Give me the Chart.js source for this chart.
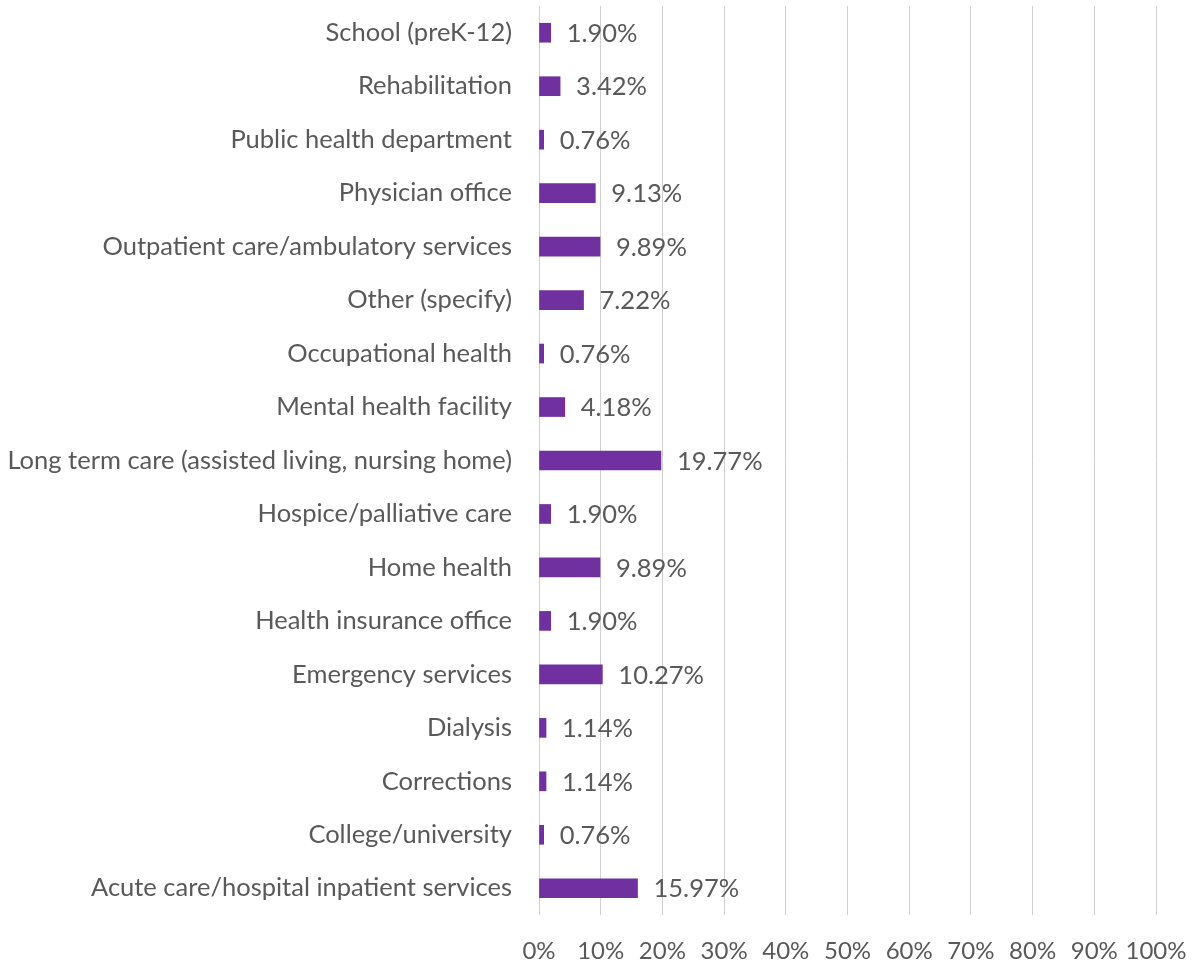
<!DOCTYPE html>
<html>
<head>
<meta charset="utf-8">
<script src="https://cdn.jsdelivr.net/npm/chart.js@4.4.1/dist/chart.umd.min.js"></script>
<style>
  html, body { margin: 0; padding: 0; background: #ffffff; }
  #wrap { width: 1194px; height: 964px; position: relative; }
</style>
</head>
<body>
<div id="wrap"><canvas id="c" width="1194" height="964"></canvas></div>
<script>
const categories = [
  "School (preK-12)",
  "Rehabilitation",
  "Public health department",
  "Physician office",
  "Outpatient care/ambulatory services",
  "Other (specify)",
  "Occupational health",
  "Mental health facility",
  "Long term care (assisted living, nursing home)",
  "Hospice/palliative care",
  "Home health",
  "Health insurance office",
  "Emergency services",
  "Dialysis",
  "Corrections",
  "College/university",
  "Acute care/hospital inpatient services"
];
const percentages = [1.90, 3.42, 0.76, 9.13, 9.89, 7.22, 0.76, 4.18, 19.77, 1.90, 9.89, 1.90, 10.27, 1.14, 1.14, 0.76, 15.97];
const tickValues = [0, 10, 20, 30, 40, 50, 60, 70, 80, 90, 100];

const FONT = "Lato, 'Open Sans', sans-serif";
const TEXT = "#595959";

// pick a font size so the longest category label spans ~504px like the reference
const mctx = document.createElement('canvas').getContext('2d');
mctx.font = "100px " + FONT;
const longW = mctx.measureText(categories[8]).width;
const FS = Math.round(504 / longW * 100 * 10) / 10;
const VFS = FS * 1.0;
const XFS = Math.round(FS * 0.94 * 10) / 10;

const valueLabels = {
  id: 'valueLabels',
  afterDatasetsDraw(chart) {
    const ctx = chart.ctx;
    const meta = chart.getDatasetMeta(0);
    ctx.save();
    ctx.font = VFS + "px " + FONT;
    ctx.fillStyle = TEXT;
    ctx.textAlign = 'left';
    ctx.textBaseline = 'middle';
    meta.data.forEach((bar, i) => {
      ctx.fillText(percentages[i].toFixed(2) + '%', bar.x + 16, bar.y + 1);
    });
    ctx.restore();
  }
};

new Chart(document.getElementById('c'), {
  type: 'bar',
  data: {
    labels: categories,
    datasets: [{
      data: percentages,
      backgroundColor: '#7030A0',
      borderWidth: 0,
      barThickness: 19
    }]
  },
  options: {
    indexAxis: 'y',
    responsive: false,
    animation: false,
    layout: { padding: { top: 6, right: 38, left: 0, bottom: 0 } },
    plugins: { legend: { display: false }, tooltip: { enabled: false } },
    scales: {
      x: {
        min: 0, max: 100,
        afterBuildTicks(axis) { axis.ticks = tickValues.map(v => ({ value: v })); },
        afterFit(axis) { axis.height = 49; axis.paddingLeft = 0; axis.paddingRight = 0; },
        border: { display: false },
        grid: { color: '#d0d0d0', lineWidth: 1, drawTicks: false },
        ticks: {
          padding: 22,
          color: TEXT,
          font: { family: FONT, size: XFS },
          callback: v => v + '%',
          autoSkip: false,
          maxRotation: 0,
          minRotation: 0
        }
      },
      y: {
        afterFit(axis) { axis.width = 539; axis.paddingTop = 0; axis.paddingBottom = 0; },
        border: { display: false },
        grid: { display: false, drawTicks: false },
        ticks: {
          padding: 27,
          color: TEXT,
          font: { family: FONT, size: FS },
          autoSkip: false
        }
      }
    }
  },
  plugins: [valueLabels]
});
</script>
</body>
</html>
